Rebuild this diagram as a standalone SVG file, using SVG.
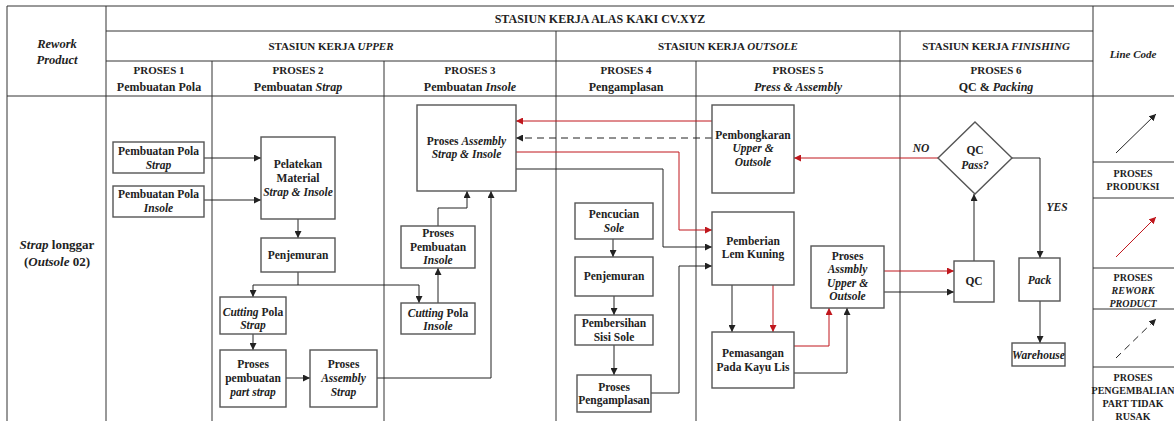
<svg xmlns="http://www.w3.org/2000/svg" width="1174" height="421" viewBox="0 0 1174 421">
  <style>
    .t { font-family: "Liberation Serif", "Times New Roman", serif; font-size: 11.5px; font-weight: bold; fill: #222; text-anchor: middle; }
    .h { font-size: 11px; }
    .big { font-size: 12px; }
    .s { font-size: 10px; }
    .i { font-style: italic; }
    .grid { stroke: #333; stroke-width: 1; fill: none; }
    .box { fill: #fff; stroke: #555; stroke-width: 1.4; }
    .c { fill: none; stroke: #222; stroke-width: 1; }
    .r { fill: none; stroke: #c0171d; stroke-width: 1; }
    .d { stroke-dasharray: 7 5; }
  </style>
  <defs>
    <marker id="ab" viewBox="0 0 10 10" refX="10" refY="5" markerWidth="7" markerHeight="7" markerUnits="userSpaceOnUse" orient="auto">
      <path d="M0,0 L10,5 L0,10 z" fill="#222"/>
    </marker>
    <marker id="ar" viewBox="0 0 10 10" refX="10" refY="5" markerWidth="7" markerHeight="7" markerUnits="userSpaceOnUse" orient="auto">
      <path d="M0,0 L10,5 L0,10 z" fill="#c0171d"/>
    </marker>
  </defs>
  <rect width="1174" height="421" fill="#fff"/>

  <!-- table grid -->
  <g id="grid" class="grid">
    <path d="M7,6 H1174 M7,6 V421 M106,6 V421 M1093,6 V421"/>
    <path d="M106,31 H1093 M106,61 H1093 M7,96 H1174"/>
    <path d="M556,31 V421 M900,31 V421 M212,61 V421 M384,61 V421 M696,61 V421"/>
    <path d="M1093,162 H1174 M1093,198 H1174 M1093,268 H1174 M1093,309 H1174 M1093,367 H1174"/>
  </g>

  <!-- header labels -->
  <g id="header">
    <text class="t big" x="600" y="23">STASIUN KERJA ALAS KAKI CV.XYZ</text>
    <text class="t h" x="331" y="50">STASIUN KERJA <tspan class="i">UPPER</tspan></text>
    <text class="t h" x="728" y="50">STASIUN KERJA <tspan class="i">OUTSOLE</tspan></text>
    <text class="t h" x="996" y="50">STASIUN KERJA <tspan class="i">FINISHING</tspan></text>
    <text class="t h i" x="1133" y="58">Line Code</text>
    <text class="t i" x="57" y="48" style="font-size:12.5px">Rework</text>
    <text class="t i" x="57" y="64" style="font-size:12.5px">Product</text>
    <text class="t h" x="159" y="74">PROSES 1</text>
    <text class="t big" x="159" y="91">Pembuatan Pola</text>
    <text class="t h" x="298" y="74">PROSES 2</text>
    <text class="t big" x="298" y="91">Pembuatan <tspan class="i">Strap</tspan></text>
    <text class="t h" x="470" y="74">PROSES 3</text>
    <text class="t big" x="470" y="91">Pembuatan <tspan class="i">Insole</tspan></text>
    <text class="t h" x="626" y="74">PROSES 4</text>
    <text class="t big" x="626" y="91">Pengamplasan</text>
    <text class="t h" x="798" y="74">PROSES 5</text>
    <text class="t big i" x="798" y="91">Press &amp; Assembly</text>
    <text class="t h" x="996" y="74">PROSES 6</text>
    <text class="t big" x="996" y="91">QC &amp; <tspan class="i">Packing</tspan></text>
    <text class="t" x="57" y="249" style="font-size:13px"><tspan class="i">Strap</tspan> longgar</text>
    <text class="t" x="57" y="266" style="font-size:13px">(<tspan class="i">Outsole</tspan> 02)</text>
  </g>

  <!-- connectors -->
  <g id="connectors">
    <path class="c" d="M204,158 H261" marker-end="url(#ab)"/>
    <path class="c" d="M204,200 H261" marker-end="url(#ab)"/>
    <path class="c" d="M298,219 V238" marker-end="url(#ab)"/>
    <path class="c" d="M298,272 V285 H253 V297" marker-end="url(#ab)"/>
    <path class="c" d="M298,285 H419 V303" marker-end="url(#ab)"/>
    <path class="c" d="M438,303 V268" marker-end="url(#ab)"/>
    <path class="c" d="M438,226 V208 H467 V191" marker-end="url(#ab)"/>
    <path class="c" d="M253,334 V350" marker-end="url(#ab)"/>
    <path class="c" d="M286,378 H310" marker-end="url(#ab)"/>
    <path class="c" d="M377,378 H491 V191" marker-end="url(#ab)"/>
    <path class="c" d="M516,169 H663 V247 H712" marker-end="url(#ab)"/>
    <path class="c" d="M651,393 H679 V266 H712" marker-end="url(#ab)"/>
    <path class="c" d="M613,239 V257" marker-end="url(#ab)"/>
    <path class="c" d="M614,296 V315" marker-end="url(#ab)"/>
    <path class="c" d="M614,345 V375" marker-end="url(#ab)"/>
    <path class="c" d="M732,285 V332" marker-end="url(#ab)"/>
    <path class="c" d="M794,373 H847 V308" marker-end="url(#ab)"/>
    <path class="c" d="M884,292 H954" marker-end="url(#ab)"/>
    <path class="c" d="M974,261 V194" marker-end="url(#ab)"/>
    <path class="c" d="M1012,158 H1040 V258" marker-end="url(#ab)"/>
    <path class="c" d="M1040,301 V343" marker-end="url(#ab)"/>
    <path class="c d" d="M712,138 H516" marker-end="url(#ab)"/>
    <path class="r" d="M712,121 H516" marker-end="url(#ar)"/>
    <path class="r" d="M516,152 H679 V230 H712" marker-end="url(#ar)"/>
    <path class="r" d="M773,285 V332" marker-end="url(#ar)"/>
    <path class="r" d="M794,346 H829 V308" marker-end="url(#ar)"/>
    <path class="r" d="M884,271 H954" marker-end="url(#ar)"/>
    <path class="r" d="M938,158 H794" marker-end="url(#ar)"/>
    <text class="t i" x="921" y="152">NO</text>
    <text class="t i" x="1057" y="211">YES</text>
  </g>

  <!-- process nodes -->
  <g id="n-pola-strap">
    <rect class="box" x="113" y="142" width="91" height="31"/>
    <text class="t" x="158.5" y="155">Pembuatan Pola</text>
    <text class="t i" x="158.5" y="169">Strap</text>
  </g>
  <g id="n-pola-insole">
    <rect class="box" x="113" y="186" width="91" height="31"/>
    <text class="t" x="158.5" y="198">Pembuatan Pola</text>
    <text class="t i" x="158.5" y="212">Insole</text>
  </g>
  <g id="n-pelatekan">
    <rect class="box" x="261" y="137" width="74" height="82"/>
    <text class="t" x="298" y="168">Pelatekan</text>
    <text class="t" x="298" y="182">Material</text>
    <text class="t i" x="298" y="196">Strap &amp; Insole</text>
  </g>
  <g id="n-penjemuran-upper">
    <rect class="box" x="261" y="238" width="74" height="34"/>
    <text class="t" x="298" y="259">Penjemuran</text>
  </g>
  <g id="n-cutting-strap">
    <rect class="box" x="220" y="297" width="66" height="37"/>
    <text class="t" x="253" y="316"><tspan class="i">Cutting</tspan> Pola</text>
    <text class="t i" x="253" y="329">Strap</text>
  </g>
  <g id="n-part-strap">
    <rect class="box" x="220" y="350" width="66" height="57"/>
    <text class="t" x="253" y="368">Proses</text>
    <text class="t" x="253" y="382">pembuatan</text>
    <text class="t i" x="253" y="396">part strap</text>
  </g>
  <g id="n-assembly-strap">
    <rect class="box" x="310" y="350" width="67" height="57"/>
    <text class="t" x="343.5" y="368">Proses</text>
    <text class="t i" x="343.5" y="382">Assembly</text>
    <text class="t i" x="343.5" y="396">Strap</text>
  </g>
  <g id="n-assembly-strap-insole">
    <rect class="box" x="417" y="105" width="99" height="86"/>
    <text class="t" x="466.5" y="145">Proses <tspan class="i">Assembly</tspan></text>
    <text class="t i" x="466.5" y="158">Strap &amp; Insole</text>
  </g>
  <g id="n-pembuatan-insole">
    <rect class="box" x="401" y="226" width="74" height="42"/>
    <text class="t" x="438" y="237">Proses</text>
    <text class="t" x="438" y="251">Pembuatan</text>
    <text class="t i" x="438" y="264">Insole</text>
  </g>
  <g id="n-cutting-insole">
    <rect class="box" x="401" y="303" width="74" height="31"/>
    <text class="t" x="438" y="317"><tspan class="i">Cutting</tspan> Pola</text>
    <text class="t i" x="438" y="330">Insole</text>
  </g>
  <g id="n-pencucian">
    <rect class="box" x="575" y="203" width="78" height="36"/>
    <text class="t" x="614" y="218">Pencucian</text>
    <text class="t i" x="614" y="232">Sole</text>
  </g>
  <g id="n-penjemuran-sole">
    <rect class="box" x="575" y="257" width="78" height="39"/>
    <text class="t" x="614" y="280">Penjemuran</text>
  </g>
  <g id="n-pembersihan">
    <rect class="box" x="575" y="315" width="78" height="30"/>
    <text class="t" x="614" y="327">Pembersihan</text>
    <text class="t" x="614" y="341">Sisi Sole</text>
  </g>
  <g id="n-pengamplasan">
    <rect class="box" x="577" y="375" width="74" height="37"/>
    <text class="t" x="614" y="391">Proses</text>
    <text class="t" x="614" y="404">Pengamplasan</text>
  </g>
  <g id="n-pembongkaran">
    <rect class="box" x="712" y="105" width="82" height="88"/>
    <text class="t" x="753" y="139">Pembongkaran</text>
    <text class="t i" x="753" y="152">Upper &amp;</text>
    <text class="t i" x="753" y="166">Outsole</text>
  </g>
  <g id="n-lem-kuning">
    <rect class="box" x="712" y="212" width="82" height="73"/>
    <text class="t" x="753" y="245">Pemberian</text>
    <text class="t" x="753" y="258">Lem Kuning</text>
  </g>
  <g id="n-kayu-lis">
    <rect class="box" x="712" y="332" width="82" height="56"/>
    <text class="t" x="753" y="357">Pemasangan</text>
    <text class="t" x="753" y="371">Pada Kayu Lis</text>
  </g>
  <g id="n-assembly-upper-outsole">
    <rect class="box" x="811" y="246" width="73" height="62"/>
    <text class="t" x="847.5" y="260">Proses</text>
    <text class="t i" x="847.5" y="273">Assmbly</text>
    <text class="t i" x="847.5" y="287">Upper &amp;</text>
    <text class="t i" x="847.5" y="300">Outsole</text>
  </g>
  <g id="n-qc-pass">
    <polygon class="box" points="975,122 1012,158 975,194 938,158"/>
    <text class="t" x="975" y="154">QC</text>
    <text class="t i" x="975" y="169">Pass?</text>
  </g>
  <g id="n-qc">
    <rect class="box" x="954" y="261" width="40" height="41"/>
    <text class="t" x="974" y="285">QC</text>
  </g>
  <g id="n-pack">
    <rect class="box" x="1019" y="258" width="41" height="43"/>
    <text class="t i" x="1039.5" y="284">Pack</text>
  </g>
  <g id="n-warehouse">
    <rect class="box" x="1012" y="343" width="53" height="23"/>
    <text class="t i" x="1038.5" y="359">Warehouse</text>
  </g>

  <!-- line code legend -->
  <g id="legend">
    <path class="c" d="M1116,153 L1156,114" marker-end="url(#ab)"/>
    <path class="r" d="M1116,257 L1156,217" marker-end="url(#ar)"/>
    <path class="c d" d="M1116,358 L1156,319" marker-end="url(#ab)"/>
    <text class="t s" x="1133" y="177">PROSES</text>
    <text class="t s" x="1133" y="190">PRODUKSI</text>
    <text class="t s" x="1133" y="281">PROSES</text>
    <text class="t s i" x="1133" y="294">REWORK</text>
    <text class="t s i" x="1133" y="307">PRODUCT</text>
    <text class="t s" x="1133" y="381">PROSES</text>
    <text class="t s" x="1133" y="394">PENGEMBALIAN</text>
    <text class="t s" x="1133" y="407">PART TIDAK</text>
    <text class="t s" x="1133" y="420">RUSAK</text>
  </g>
</svg>
